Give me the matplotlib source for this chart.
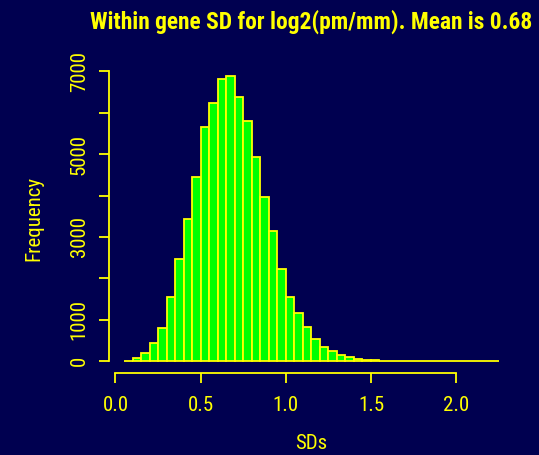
import matplotlib.pyplot as plt
from matplotlib import font_manager

bg = "#000050"
fg = "#ffff00"

# the reference uses a narrow font; take the first narrow family we have
installed = {f.name for f in font_manager.fontManager.ttflist}
narrow = [n for n in ["Liberation Sans Narrow", "DejaVu Sans Condensed", "Roboto Condensed",
                      "Open Sans Condensed", "Noto Sans Condensed", "Arial Narrow", "Roboto"]
          if n in installed]
plt.rcParams["font.family"] = narrow[:1] + ["DejaVu Sans"]

# histogram of within-gene SDs, bins of 0.05 from 0.05 to 2.25
bin_start = 0.05
bin_width = 0.05
counts = [
    12, 68, 205, 447, 793, 1558, 2476, 3435, 4457, 5664,
    6244, 6816, 6880, 6389, 5809, 4940, 3973, 3152, 2230, 1558,
    1168, 816, 536, 350, 254, 140, 92, 48, 40, 22,
    14, 9, 6, 4, 3, 2, 2, 1, 1, 0,
    1, 0, 0, 1,
]
lefts = [bin_start + i * bin_width for i in range(len(counts))]

x_ticks = [0.0, 0.5, 1.0, 1.5, 2.0]
x_labels = ["0.0", "0.5", "1.0", "1.5", "2.0"]
y_ticks = [0, 1000, 2000, 3000, 4000, 5000, 6000, 7000]
y_labels = ["0", "1000", "", "3000", "", "5000", "", "7000"]

title = "Within gene SD for log2(pm/mm). Mean is 0.68"

W, H = 539, 455
fig = plt.figure(figsize=(W / 100, H / 100), dpi=100)
fig.set_facecolor(bg)

left, right, top, bottom = 109, 513.7, 64.8, 372.7
ax = fig.add_axes([left / W, 1 - bottom / H, (right - left) / W, (bottom - top) / H])
ax.set_facecolor(bg)

ax.bar(lefts, counts, width=bin_width, align="edge",
       color="#00ff00", edgecolor=fg, linewidth=1.3)

x0, x1 = lefts[0], lefts[-1] + bin_width
ax.set_xlim(x0 - 0.04 * (x1 - x0), x1 + 0.04 * (x1 - x0))
ymax = max(counts)
ax.set_ylim(-0.04 * ymax, 1.04 * ymax)

for s in ["top", "right"]:
    ax.spines[s].set_visible(False)
for s in ["left", "bottom"]:
    ax.spines[s].set_color(fg)
    ax.spines[s].set_linewidth(1.3)
ax.spines["left"].set_bounds(y_ticks[0], y_ticks[-1])
ax.spines["bottom"].set_bounds(x_ticks[0], x_ticks[-1])

ax.set_xticks(x_ticks, x_labels)
ax.set_yticks(y_ticks, y_labels, rotation=90, va="center")
ax.tick_params(colors=fg, length=7.5, width=1.3, labelsize=15)
ax.tick_params(axis="x", pad=9)
ax.tick_params(axis="y", pad=7)

ax.set_xlabel("SDs", color=fg, fontsize=15, labelpad=14)
ax.set_ylabel("Frequency", color=fg, fontsize=15, labelpad=19)
t = ax.set_title(title, color=fg, fontsize=15, fontweight="bold", pad=26)

# fit the title to the width it has in the reference (~443 px)
fig.canvas.draw()
w = t.get_window_extent().width
t.set_fontsize(15 * 443 / w)

fig.savefig("out.png", dpi=100, facecolor=bg)
